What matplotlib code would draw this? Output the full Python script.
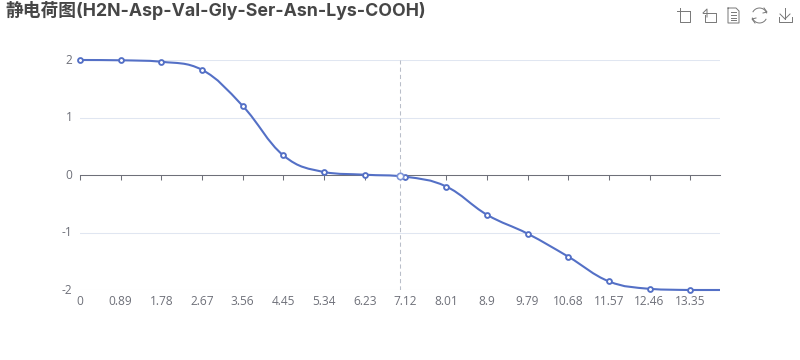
import matplotlib
matplotlib.use("Agg")
import matplotlib.pyplot as plt
import numpy as np
from matplotlib.path import Path
from matplotlib.patches import PathPatch
from matplotlib.lines import Line2D
from matplotlib.transforms import ScaledTranslation

plt.rcParams['font.family'] = ['Open Sans', 'Noto Sans CJK SC', 'DejaVu Sans']

title = "静电荷图(H2N-Asp-Val-Gly-Ser-Asn-Lys-COOH)"
ph = [0, 0.89, 1.78, 2.67, 3.56, 4.45, 5.34, 6.23, 7.12, 8.01, 8.9, 9.79, 10.68, 11.57, 12.46, 13.35, 14]
charge = [2.0, 1.995, 1.97, 1.83, 1.2, 0.34, 0.05, 0.005, -0.03, -0.2, -0.69, -1.02, -1.42, -1.85, -1.98, -2.0, -2.0]
xticks = [0, 0.89, 1.78, 2.67, 3.56, 4.45, 5.34, 6.23, 7.12, 8.01, 8.9, 9.79, 10.68, 11.57, 12.46, 13.35]
xlabels = ['0', '0.89', '1.78', '2.67', '3.56', '4.45', '5.34', '6.23', '7.12', '8.01', '8.9', '9.79', '10.68', '11.57', '12.46', '13.35']
yticks = [-2, -1, 0, 1, 2]
pointer_ph = 7.0
pointer_charge = -0.02

LINE = '#5470c6'
LABEL = '#6E7079'
W, H = 800, 360
fig = plt.figure(figsize=(8, 3.6), dpi=100)
ax = fig.add_axes([80/W, 1-290/H, 640/W, 230/H])
ax.set_xlim(0, 14)
ax.set_ylim(-2, 2)
for s in ['top', 'left', 'right']:
    ax.spines[s].set_visible(False)
ax.spines['bottom'].set_position(('data', 0))
ax.spines['bottom'].set_color(LABEL)
ax.spines['bottom'].set_linewidth(0.75)
ax.set_axisbelow(True)
ax.set_xticks(xticks, xlabels)
ax.set_yticks(yticks, [str(v) for v in yticks])
ax.tick_params(axis='x', length=3.6, width=0.75, color=LABEL, labelcolor=LABEL, labelsize=8.6, pad=83)
ax.tick_params(axis='y', length=0, labelcolor=LABEL, labelsize=8.6, pad=5.5)
ax.yaxis.grid(True, color='#E0E6F1', lw=0.75)
for lab in ax.get_yticklabels():
    lab.set_transform(lab.get_transform() + ScaledTranslation(0, 1.2/100, fig.dpi_scale_trans))

# smooth curve as Bezier segments through the data points
x, y = np.array(ph), np.array(charge)
verts = [(x[0], y[0])]
codes = [Path.MOVETO]
HANDLE = 0.4
def slope(i):
    a, b = max(i-1, 0), min(i+1, len(x)-1)
    return (y[b]-y[a])/(x[b]-x[a])
for i in range(len(x)-1):
    h = x[i+1]-x[i]
    c1y = y[i]+slope(i)*h*HANDLE
    c2y = y[i+1]-slope(i+1)*h*HANDLE
    lo, hi = min(y[i], y[i+1]), max(y[i], y[i+1])
    verts += [(x[i]+h*HANDLE, np.clip(c1y, lo, hi)),
              (x[i+1]-h*HANDLE, np.clip(c2y, lo, hi)),
              (x[i+1], y[i+1])]
    codes += [Path.CURVE4]*3
ax.add_patch(PathPatch(Path(verts, codes), fc='none', ec=LINE, lw=1.5, clip_on=False, zorder=3))

ax.axvline(pointer_ph, color='#B9BEC9', lw=0.75, ls=(0, (4, 3)), zorder=2)
mask = x != 14
ax.plot(x[mask], y[mask], ls='none', marker='o', ms=3.5, mfc='white', mec=LINE, mew=1.35, clip_on=False, zorder=4)
ax.plot([pointer_ph], [pointer_charge], ls='none', marker='o', ms=4.6, mfc='white', mec='#7f95d8', mew=1.2, clip_on=False, zorder=5)

fig.text(5/W, 1-11/H, title, fontsize=12.78, fontweight='bold', color='#464646', va='center', ha='left',
         family=['Inter', 'Noto Sans CJK SC', 'DejaVu Sans'])

# toolbox icons (pixel coordinates)
def icon(pts):
    px = [p[0]/W for p in pts]
    py = [1-p[1]/H for p in pts]
    fig.add_artist(Line2D(px, py, color='#777777', lw=0.7, transform=fig.transFigure))
icon([(677, 11), (690, 11)]); icon([(680, 8), (680, 22), (690, 22), (690, 11)])
icon([(703, 13), (707, 9), (707, 17)]); icon([(703, 13), (716, 13), (716, 22), (705, 22), (705, 15)])
icon([(728, 8), (736, 8), (739, 11), (739, 23), (728, 23), (728, 8)])
for yy in (12, 15, 18, 20):
    icon([(731, yy), (736, yy)])
t = np.radians(np.arange(20, 160, 10))
icon(list(zip(759.5+7.5*np.cos(t), 15.5-7.5*np.sin(t))))
t2 = t + np.pi
icon(list(zip(759.5+7.5*np.cos(t2), 15.5-7.5*np.sin(t2))))
icon([(764, 8), (767, 12), (763, 13)]); icon([(755, 23), (752, 19), (756, 18)])
icon([(785, 8), (785, 19)]); icon([(780, 14), (785, 19), (790, 14)]); icon([(779, 17), (779, 22), (792, 22), (792, 17)])

fig.savefig('out.png', dpi=100, facecolor='white')
